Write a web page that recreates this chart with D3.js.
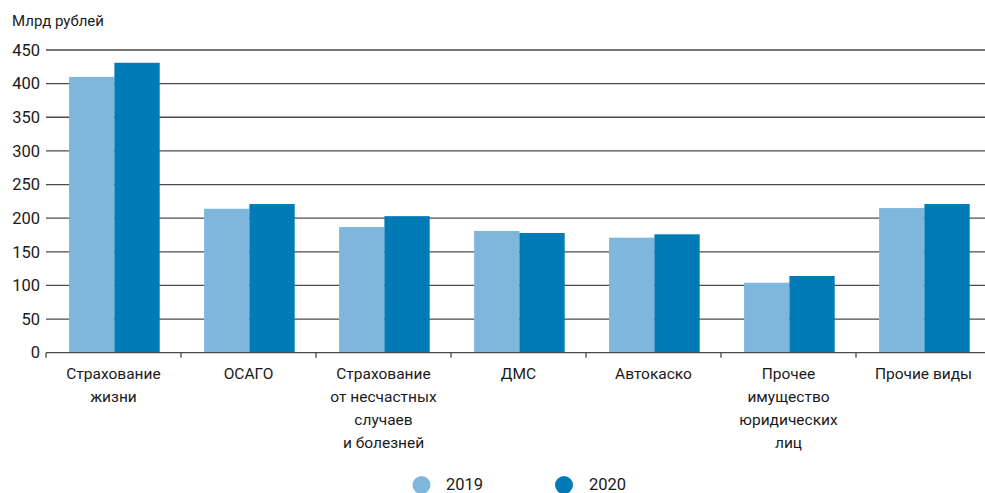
<!DOCTYPE html>
<html lang="ru">
<head>
<meta charset="utf-8">
<script src="https://cdn.jsdelivr.net/npm/d3@7"></script>
<style>
  html, body { margin: 0; padding: 0; background: #fff; }
  svg { display: block; font-family: Roboto, "Noto Sans", sans-serif; }
</style>
</head>
<body>
<svg id="chart" width="985" height="493"></svg>
<script>
// Категории страхования (строки подписи разделены "\n")
const categories = [
  "Страхование\nжизни",
  "ОСАГО",
  "Страхование\nот несчастных\nслучаев\nи болезней",
  "ДМС",
  "Автокаско",
  "Прочее\nимущество\nюридических\nлиц",
  "Прочие виды"
];
const seriesNames = ["2019", "2020"];
const values2019 = [410, 214, 187, 181, 171, 104, 215];
const values2020 = [431, 221, 203, 178, 176, 114, 221];
const yTicks = [0, 50, 100, 150, 200, 250, 300, 350, 400, 450];
const colors = ["#7fb7dc", "#007bb6"];

const svg = d3.select("#chart");
const margin = { left: 46, right: -6, top: 50 };
const width = 985;
const plotBottom = 352.7;

const x = d3.scaleBand()
  .domain(categories)
  .range([margin.left, width - margin.right])
  .paddingInner(0)
  .paddingOuter(0);

const x1 = d3.scaleBand()
  .domain(seriesNames)
  .range([0, x.bandwidth()])
  .paddingOuter(0.49)
  .paddingInner(0)
  .align(0.52);

const y = d3.scaleLinear().domain([0, 450]).range([plotBottom, margin.top]);

// Горизонтальные линии сетки
svg.append("g")
  .selectAll("line")
  .data(yTicks.filter(d => d > 0))
  .join("line")
  .attr("x1", margin.left)
  .attr("x2", width)
  .attr("y1", d => y(d))
  .attr("y2", d => y(d))
  .attr("stroke", "#4a4a4a")
  .attr("stroke-width", 1.3);

// Подписи оси Y
const yAxis = d3.axisLeft(y).tickValues(yTicks).tickSize(0).tickPadding(6);
svg.append("g")
  .attr("transform", `translate(${margin.left},0)`)
  .call(yAxis)
  .call(g => g.select(".domain").remove())
  .call(g => g.selectAll("text")
    .attr("font-size", 16.5)
    .attr("fill", "#1a1a1a")
    .attr("font-family", "Roboto, sans-serif"));

// Столбцы
const data = categories.map((c, i) => ({ cat: c, vals: [values2019[i], values2020[i]] }));
const groups = svg.append("g")
  .selectAll("g")
  .data(data)
  .join("g")
  .attr("transform", d => `translate(${x(d.cat)},0)`);

groups.selectAll("rect")
  .data(d => d.vals.map((v, j) => ({ key: seriesNames[j], v, j })))
  .join("rect")
  .attr("x", d => x1(d.key))
  .attr("width", x1.bandwidth())
  .attr("y", d => y(d.v))
  .attr("height", d => y(0) - y(d.v))
  .attr("fill", d => colors[d.j]);

// Ось X с делениями на границах категорий
const xAxisG = svg.append("g");
xAxisG.append("line")
  .attr("x1", margin.left)
  .attr("x2", width)
  .attr("y1", y(0))
  .attr("y2", y(0))
  .attr("stroke", "#4a4a4a")
  .attr("stroke-width", 1.3);
const boundaries = categories.map(c => x(c));
xAxisG.selectAll("line.tick")
  .data(boundaries)
  .join("line")
  .attr("class", "tick")
  .attr("x1", d => d)
  .attr("x2", d => d)
  .attr("y1", y(0))
  .attr("y2", y(0) + 5)
  .attr("stroke", "#4a4a4a")
  .attr("stroke-width", 1.3);

// Подписи категорий
const labels = svg.append("g")
  .selectAll("text")
  .data(categories)
  .join("text")
  .attr("x", d => x(d) + x.bandwidth() / 2)
  .attr("y", 379)
  .attr("text-anchor", "middle")
  .attr("font-size", 15.5)
  .attr("fill", "#1a1a1a");
labels.each(function (d) {
  const t = d3.select(this);
  d.split("\n").forEach((line, i) => {
    t.append("tspan")
      .attr("x", x(d) + x.bandwidth() / 2)
      .attr("dy", i === 0 ? 0 : 23)
      .text(line);
  });
});

// Единицы измерения
svg.append("text")
  .attr("x", 12)
  .attr("y", 26)
  .attr("font-size", 15)
  .attr("fill", "#1a1a1a")
  .text("Млрд рублей");

// Легенда
const legendItems = [
  { name: seriesNames[0], cx: 421.5, tx: 446 },
  { name: seriesNames[1], cx: 564, tx: 589 }
];
const legend = svg.append("g");
legend.selectAll("circle")
  .data(legendItems)
  .join("circle")
  .attr("cx", d => d.cx)
  .attr("cy", 485)
  .attr("r", 9)
  .attr("fill", (d, i) => colors[i]);
legend.selectAll("text")
  .data(legendItems)
  .join("text")
  .attr("x", d => d.tx)
  .attr("y", 490)
  .attr("font-size", 16.5)
  .attr("fill", "#1a1a1a")
  .text(d => d.name);
</script>
</body>
</html>
